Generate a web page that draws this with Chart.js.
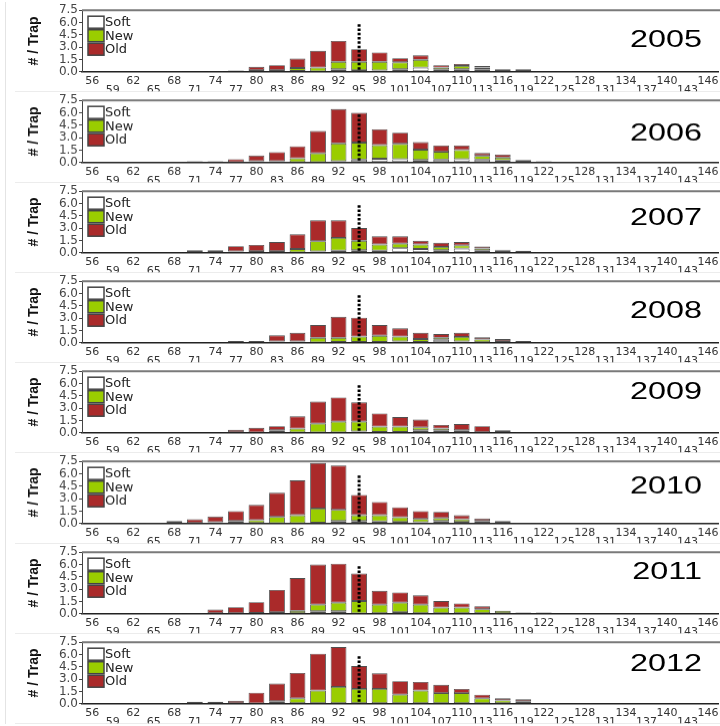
<!DOCTYPE html>
<html lang="en">
<head>
<meta charset="UTF-8">
<title>Carapace width per trap, 2005-2012</title>
<script src="https://cdn.jsdelivr.net/npm/chart.js"></script>
<style>
body {
    margin: 0;
    background: #ffffff;
    overflow: hidden;
}
#wrap {
    width: 720px;
    height: 726px;
    padding-top: 2px;
    box-sizing: border-box;
    overflow: hidden;
}
/* panels run a few px past the right edge, as in the original */
.panel {
    position: relative;
    width: 723px;
    height: 90.3px;
}
</style>
</head>
<body>
<div id="wrap"></div>

<script>
// size bins (mm), 56..146 step 3
const sizes = [56,59,62,65,68,71,74,77,80,83,86,89,92,95,98,101,104,107,110,113,116,119,122,125,128,131,134,137,140,143,146];
const years = ["2005","2006","2007","2008","2009","2010","2011","2012"];

// catch per trap by shell condition, one array per year
const soft05 = [0,0,0,0,0,0,0,0,0,0,0.1,0.05,0.3,0.2,0.15,0.3,0.5,0.25,0.3,0.3,0.2,0.2,0,0,0,0,0,0,0,0,0];
const new05  = [0,0,0,0,0,0,0,0,0.2,0.2,0.35,0.45,0.9,1.0,1.05,0.85,0.95,0.25,0.4,0.2,0,0,0,0,0,0,0,0,0,0,0];
const old05  = [0.1,0,0,0,0.1,0,0.1,0.15,0.4,0.6,1.15,2.05,2.55,1.55,1.15,0.5,0.55,0.3,0.25,0.2,0.1,0.1,0.1,0.1,0,0,0,0,0,0,0];

const soft06 = [0,0,0,0,0,0,0,0,0,0,0.05,0.05,0.15,0.35,0.45,0.4,0.3,0.35,0.4,0.35,0.25,0,0,0,0,0,0,0,0,0,0];
const new06  = [0,0,0,0,0,0,0,0.05,0.15,0.15,0.45,1.05,2.15,2.05,1.65,1.85,1.25,0.95,1.1,0.45,0.35,0.3,0,0,0,0,0,0,0,0,0];
const old06  = [0.1,0,0,0,0.1,0.15,0.15,0.35,0.7,1.1,1.45,2.7,4.15,3.6,1.9,1.35,0.9,0.75,0.55,0.35,0.35,0,0.15,0.1,0,0,0,0,0,0,0];

const soft07 = [0,0,0,0,0,0,0,0,0,0,0.05,0.15,0.25,0.3,0.25,0.55,0.45,0.3,0.5,0.25,0,0,0,0,0,0,0,0,0,0,0];
const new07  = [0,0,0,0,0,0,0,0.15,0.2,0.2,0.4,1.25,1.55,1.15,0.75,0.55,0.55,0.4,0.4,0.25,0.3,0,0,0,0,0,0,0,0,0,0];
const old07  = [0,0,0,0,0.1,0.3,0.3,0.65,0.75,1.1,1.8,2.55,2.15,1.55,1.0,0.9,0.45,0.5,0.4,0.25,0.05,0.25,0.1,0,0,0,0,0,0,0,0];

const soft08 = [0,0,0,0,0,0,0,0,0,0,0,0.05,0.1,0.1,0.1,0.15,0.1,0.35,0.15,0,0,0,0,0,0,0,0,0,0,0,0];
const new08  = [0,0,0,0,0,0,0,0,0,0.15,0.15,0.55,0.5,0.65,0.75,0.6,0.35,0.25,0.55,0.4,0.2,0,0,0,0,0,0,0,0,0,0];
const old08  = [0,0,0,0,0,0.1,0,0.2,0.2,0.75,1.05,1.55,2.55,2.3,1.3,1.0,0.75,0.45,0.5,0.25,0.25,0.2,0.1,0,0,0,0,0,0,0,0];

const soft09 = [0,0,0,0,0,0,0,0,0,0,0.05,0.05,0.05,0.15,0.1,0.1,0.3,0.25,0,0,0,0,0,0,0,0,0,0,0,0,0];
const new09  = [0,0,0,0,0,0,0,0,0.05,0.3,0.45,1.05,1.3,1.2,0.65,0.65,0.35,0.25,0.3,0,0,0,0,0,0,0,0,0,0,0,0];
const old09  = [0,0,0,0,0.1,0,0,0.35,0.55,0.5,1.5,2.7,2.95,2.35,1.6,1.15,0.95,0.45,0.75,0.8,0.3,0.1,0.1,0,0,0,0,0,0,0,0];

const soft10 = [0,0,0,0,0,0,0,0,0,0.05,0.05,0.1,0.3,0.3,0.25,0.2,0.15,0.3,0.2,0,0,0,0,0,0,0,0,0,0,0,0];
const new10  = [0,0,0,0,0,0,0.15,0.3,0.4,0.75,0.95,1.7,1.35,0.7,0.75,0.55,0.4,0.35,0.3,0.3,0,0,0,0,0,0,0,0,0,0,0];
const old10  = [0,0,0,0.1,0.3,0.5,0.7,1.2,1.85,2.9,4.2,5.5,5.35,2.45,1.6,1.2,0.95,0.75,0.5,0.3,0.3,0.1,0.1,0,0,0,0,0,0,0,0];

const soft11 = [0,0,0,0,0,0,0,0,0,0,0,0.3,0.3,0.05,0,0.2,0,0,0,0,0,0,0,0,0,0,0,0,0,0,0];
const new11  = [0,0,0,0,0,0,0,0,0.1,0.2,0.35,0.8,1.05,1.5,1.1,1.15,1.1,0.75,0.75,0.55,0.35,0,0,0,0,0,0,0,0,0,0];
const old11  = [0,0,0,0.1,0.1,0.1,0.5,0.8,1.3,2.7,4.0,4.9,4.75,3.35,1.7,1.25,1.15,0.8,0.5,0.35,0,0.15,0.15,0,0,0,0,0,0,0,0];

const soft12 = [0,0,0,0,0,0,0,0,0,0,0,0,0,0,0,0,0,0,0,0,0,0,0,0,0,0,0,0,0,0,0];
const new12  = [0,0,0,0,0,0,0,0,0.05,0.3,0.65,1.6,2.05,1.8,1.8,1.1,1.6,1.3,1.3,0.65,0.4,0.3,0,0,0,0,0,0,0,0,0];
const old12  = [0,0,0.1,0,0.1,0.25,0.25,0.35,1.3,2.15,3.1,4.5,4.85,2.8,1.9,1.65,1.05,1.0,0.5,0.45,0.25,0.25,0.1,0,0.1,0,0,0,0,0,0];

const softAll = [soft05,soft06,soft07,soft08,soft09,soft10,soft11,soft12];
const newAll  = [new05,new06,new07,new08,new09,new10,new11,new12];
const oldAll  = [old05,old06,old07,old08,old09,old10,old11,old12];

// reference size marked by the dotted line, and how high it reaches
const refBin = 95;
const refTop = 5.8;

// layout only: vertical placement of the year label (px below plot top)
const yearLabelY = [30,33,27,30,21,25,20,22];

const colSoft = "#ffffff";
const colNew = "#9acd00";
const colOld = "#aa2a2a";
const edge = "#505050";
const tickFont = "DejaVu Sans";

const panelDeco = {
    id: "panelDeco",
    afterDatasetsDraw(chart, args, opts) {
        const ctx = chart.ctx;
        const a = chart.chartArea;
        const xs = chart.scales.x, ys = chart.scales.y;
        ctx.save();

        // faint frame of the panel
        ctx.strokeStyle = "#e4e4e4";
        ctx.lineWidth = 1;
        ctx.beginPath();
        ctx.moveTo(15, chart.height - 0.5);
        ctx.lineTo(chart.width, chart.height - 0.5);
        ctx.moveTo(5.5, 0);
        ctx.lineTo(5.5, chart.height);
        ctx.stroke();

        // top border of plot
        ctx.strokeStyle = "#7a7a7a";
        ctx.lineWidth = 2;
        ctx.beginPath();
        ctx.moveTo(a.left, a.top);
        ctx.lineTo(chart.width, a.top);
        ctx.stroke();

        // dotted reference line
        const xi = sizes.indexOf(refBin);
        const x = xs.getPixelForValue(xi);
        ctx.strokeStyle = "#000";
        ctx.lineWidth = 3;
        ctx.setLineDash([2.5, 1.8]);
        ctx.beginPath();
        ctx.moveTo(x, ys.getPixelForValue(refTop));
        ctx.lineTo(x, ys.getPixelForValue(0));
        ctx.stroke();
        ctx.setLineDash([]);

        // legend inside plot
        const items = [["Soft", colSoft], ["New", colNew], ["Old", colOld]];
        ctx.font = "13px 'DejaVu Sans'";
        ctx.textBaseline = "middle";
        ctx.textAlign = "left";
        items.forEach((it, i) => {
            const by = a.top + 6 + i * 13.5;
            ctx.fillStyle = it[1];
            ctx.fillRect(88, by, 16, 12);
            ctx.strokeStyle = "#444";
            ctx.lineWidth = 1.5;
            ctx.strokeRect(88, by, 16, 12);
            ctx.fillStyle = "#222";
            ctx.fillText(it[0], 105, by + 6.5);
        });

        // year label
        ctx.fillStyle = "#000";
        ctx.font = "24px 'Liberation Sans'";
        ctx.textAlign = "right";
        ctx.translate(702, a.top + opts.yearY);
        ctx.scale(1.35, 1);
        ctx.fillText(opts.year, 0, 0);
        ctx.restore();
    }
};

function makePanel(i){
    const div = document.createElement("div");
    div.className = "panel";
    const cv = document.createElement("canvas");
    div.appendChild(cv);
    document.getElementById("wrap").appendChild(div);

    new Chart(cv.getContext("2d"), {
        type: "bar",
        data: {
            labels: sizes.map(String),
            datasets: [
                {label: "Soft", data: softAll[i], backgroundColor: colSoft, borderColor: edge, borderWidth: 0.9, borderSkipped: false},
                {label: "New", data: newAll[i], backgroundColor: colNew, borderColor: edge, borderWidth: 0.9, borderSkipped: false},
                {label: "Old", data: oldAll[i], backgroundColor: colOld, borderColor: edge, borderWidth: 0.9, borderSkipped: false}
            ]
        },
        options: {
            responsive: true,
            maintainAspectRatio: false,
            animation: false,
            layout: {padding: {top: 8, left: 0, right: 0, bottom: 0}},
            datasets: {bar: {categoryPercentage: 1, barPercentage: 0.77}},
            plugins: {
                legend: {display: false},
                tooltip: {enabled: false},
                panelDeco: {year: years[i], yearY: yearLabelY[i]}
            },
            scales: {
                x: {
                    stacked: true,
                    grid: {display: false, drawTicks: false},
                    border: {display: true, color: "#222", width: 1.5},
                    ticks: {
                        autoSkip: false, maxRotation: 0, minRotation: 0, padding: 4.5,
                        color: "#333",
                        font: {family: tickFont, size: 11, lineHeight: 0.85},
                        callback: (v, k) => k % 2 === 0 ? [String(sizes[k]), ""] : ["", String(sizes[k])]
                    },
                    afterFit: s => { s.height = 20.6; }
                },
                y: {
                    stacked: true,
                    min: 0, max: 7.5,
                    grid: {display: true, drawOnChartArea: false, tickLength: 3, color: "#444"},
                    border: {display: true, color: "#444", width: 1},
                    ticks: {
                        stepSize: 1.5, autoSkip: false, padding: 1,
                        color: "#444",
                        font: {family: tickFont, size: 12},
                        callback: v => Number(v).toFixed(1)
                    },
                    title: {
                        display: true, text: "# / Trap", color: "#111",
                        font: {family: "Liberation Sans", size: 14, weight: "bold"},
                        padding: {top: 26, bottom: 0}
                    },
                    afterFit: s => { s.width = 82; }
                }
            }
        },
        plugins: [panelDeco]
    });
}

for (let i = 0; i < years.length; i++) makePanel(i);
</script>
</body>
</html>
